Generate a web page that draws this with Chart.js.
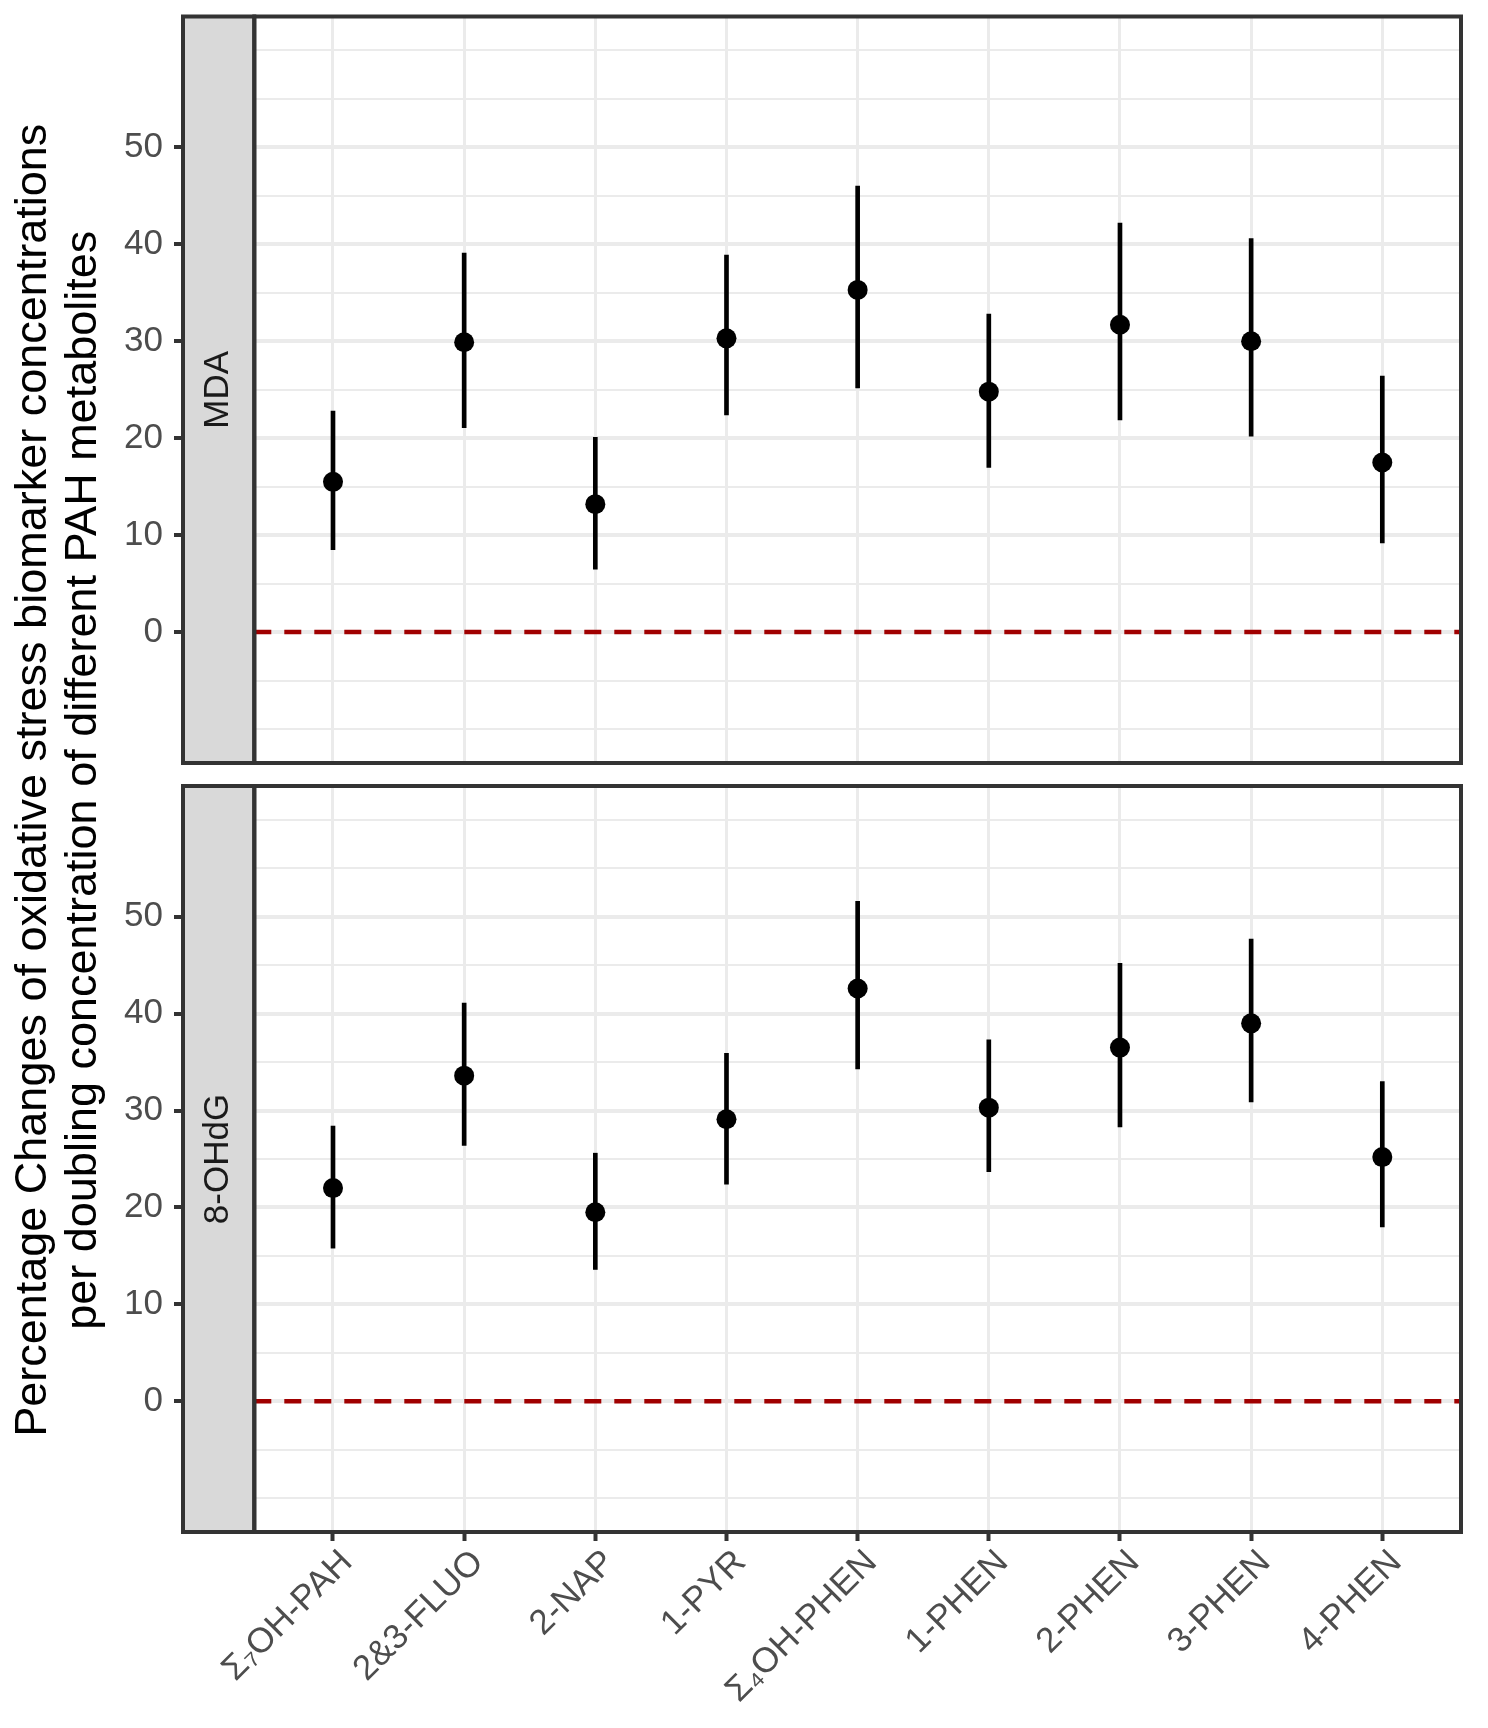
<!DOCTYPE html>
<html>
<head>
<meta charset="utf-8">
<script src="https://cdn.jsdelivr.net/npm/chart.js@4.4.1/dist/chart.umd.min.js"></script>
<style>
  html, body { margin: 0; padding: 0; background: #fff; }
  .panel { position: absolute; left: 0; top: 0; width: 1488px; height: 1728px; }
</style>
</head>
<body>
<div class="panel"><canvas id="mdaChart"></canvas></div>
<div class="panel"><canvas id="ohdgChart"></canvas></div>
<script>
const categories = ['Σ₇OH-PAH', '2&3-FLUO', '2-NAP', '1-PYR', 'Σ₄OH-PHEN', '1-PHEN', '2-PHEN', '3-PHEN', '4-PHEN'];

const mdaEstimate = [15.5, 29.9, 13.2, 30.3, 35.3, 24.8, 31.7, 30.0, 17.5];
const mdaLower    = [8.5, 21.1, 6.5, 22.4, 25.2, 17.0, 21.9, 20.2, 9.2];
const mdaUpper    = [22.8, 39.1, 20.1, 38.9, 46.0, 32.8, 42.2, 40.6, 26.4];

const ohdgEstimate = [22.0, 33.6, 19.5, 29.1, 42.6, 30.3, 36.5, 39.0, 25.2];
const ohdgLower    = [15.8, 26.4, 13.6, 22.4, 34.3, 23.7, 28.3, 30.9, 18.0];
const ohdgUpper    = [28.4, 41.1, 25.6, 35.9, 51.6, 37.3, 45.2, 47.7, 33.0];

const yTickValues = [0, 10, 20, 30, 40, 50];
const yLimits = [-10, 60];
const refLine = 0;
const yTitle = ['Percentage Changes of oxidative stress biomarker concentrations',
                'per doubling concentration of different PAH metabolites'];

// layout (px)
const W = 1488, H = 1728;
const FONT = '"Liberation Sans", Arial, Helvetica, sans-serif';
const stripLeft = 183, plotRight = 1461;
const topPanel = [16.5, 763];
const bottomPanel = [786, 1532];
const pxPerCat = (plotRight - 254.3) / 9.2;
const xMin = -0.6 - (254.3 - stripLeft) / pxPerCat;
const xMax = 8.6;
const yPad = (yLimits[1] - yLimits[0]) * 0.05;

const isLabeled = v => yTickValues.includes(v);

function noScalePadding(scale) {
    scale.paddingTop = 0;
    scale.paddingBottom = 0;
    scale.paddingLeft = 0;
    scale.paddingRight = 0;
}

const panelFrame = {
    id: 'panelFrame',
    beforeDatasetsDraw(chart, args, opts) {
        const { ctx, chartArea: a, scales } = chart;
        const split = scales.x.getPixelForValue(-0.6);
        ctx.save();
        ctx.fillStyle = '#d9d9d9';
        ctx.fillRect(a.left, a.top, split - a.left, a.bottom - a.top);
        ctx.fillStyle = '#1a1a1a';
        ctx.font = '35px ' + FONT;
        ctx.translate((a.left + split) / 2 - 3, (a.top + a.bottom) / 2);
        ctx.rotate(-Math.PI / 2);
        ctx.textAlign = 'center';
        ctx.textBaseline = 'alphabetic';
        ctx.fillText(opts.label, 0, 12.5);
        ctx.restore();
    },
    afterDraw(chart) {
        const { ctx, chartArea: a, scales } = chart;
        const split = scales.x.getPixelForValue(-0.6);
        ctx.save();
        ctx.strokeStyle = '#333333';
        ctx.lineWidth = 4;
        ctx.strokeRect(a.left, a.top, split - a.left, a.bottom - a.top);
        ctx.strokeRect(split, a.top, a.right - split, a.bottom - a.top);
        ctx.restore();
    }
};

const axisTitle = {
    id: 'axisTitle',
    afterDraw(chart) {
        const { ctx } = chart;
        ctx.save();
        ctx.fillStyle = '#000';
        ctx.font = '45px ' + FONT;
        ctx.translate(0, (topPanel[0] + bottomPanel[1]) / 2 + 6);
        ctx.rotate(-Math.PI / 2);
        ctx.textAlign = 'center';
        ctx.textBaseline = 'alphabetic';
        ctx.fillText(yTitle[0], 0, 46);
        ctx.fillText(yTitle[1], 0, 96);
        ctx.restore();
    }
};

function makePanel(canvasId, label, est, lo, hi, area, isBottom) {
    const datasets = [
        {
            type: 'scatter',
            data: est.map((v, i) => ({ x: i, y: v })),
            backgroundColor: '#000',
            borderWidth: 0,
            pointRadius: 10,
            order: 0
        },
        {
            type: 'bar',
            data: lo.map((v, i) => ({ x: i, y: [v, hi[i]] })),
            backgroundColor: '#000',
            borderWidth: 0,
            barThickness: 4,
            order: 1
        },
        {
            type: 'line',
            data: [{ x: -0.6, y: refLine }, { x: xMax, y: refLine }],
            borderColor: '#a00000',
            borderWidth: 4.5,
            borderDash: [17, 13],
            pointRadius: 0,
            order: 2
        }
    ];

    const ctx = document.getElementById(canvasId).getContext('2d');
    return new Chart(ctx, {
        type: 'scatter',
        data: { datasets },
        plugins: isBottom ? [panelFrame, axisTitle] : [panelFrame],
        options: {
            animation: false,
            responsive: true,
            maintainAspectRatio: false,
            layout: { autoPadding: false, padding: { top: area[0], left: 0, right: W - plotRight, bottom: 0 } },
            plugins: {
                legend: { display: false },
                tooltip: { enabled: false },
                panelFrame: { label }
            },
            scales: {
                x: {
                    type: 'linear',
                    min: xMin,
                    max: xMax,
                    offset: false,
                    afterBuildTicks: scale => { scale.ticks = categories.map((c, i) => ({ value: i })); },
                    afterFit: scale => { scale.height = H - area[1]; noScalePadding(scale); },
                    border: { display: false },
                    grid: {
                        offset: false,
                        color: '#ebebeb',
                        lineWidth: 3,
                        drawTicks: isBottom,
                        tickLength: 9,
                        tickColor: '#333333',
                        tickWidth: 4
                    },
                    ticks: {
                        display: isBottom,
                        autoSkip: false,
                        minRotation: 45,
                        maxRotation: 45,
                        padding: 1,
                        labelOffset: 14,
                        color: '#4d4d4d',
                        font: { family: FONT, size: 35 },
                        callback: v => categories[v]
                    }
                },
                y: {
                    type: 'linear',
                    min: yLimits[0] - yPad,
                    max: yLimits[1] + yPad,
                    afterBuildTicks: scale => {
                        const t = [];
                        for (let v = yLimits[0]; v <= yLimits[1]; v += 5) t.push({ value: v });
                        scale.ticks = t;
                    },
                    afterFit: scale => { scale.width = stripLeft; noScalePadding(scale); },
                    border: { display: false },
                    grid: {
                        color: '#ebebeb',
                        lineWidth: c => isLabeled(c.tick.value) ? 4 : 2,
                        tickLength: 9,
                        tickWidth: 4,
                        tickColor: c => isLabeled(c.tick.value) ? '#333333' : 'rgba(0,0,0,0)'
                    },
                    ticks: {
                        padding: 11,
                        color: '#4d4d4d',
                        font: { family: FONT, size: 35 },
                        callback: v => isLabeled(v) ? String(v) : ''
                    }
                }
            }
        }
    });
}

makePanel('mdaChart', 'MDA', mdaEstimate, mdaLower, mdaUpper, topPanel, false);
makePanel('ohdgChart', '8-OHdG', ohdgEstimate, ohdgLower, ohdgUpper, bottomPanel, true);
</script>
</body>
</html>
